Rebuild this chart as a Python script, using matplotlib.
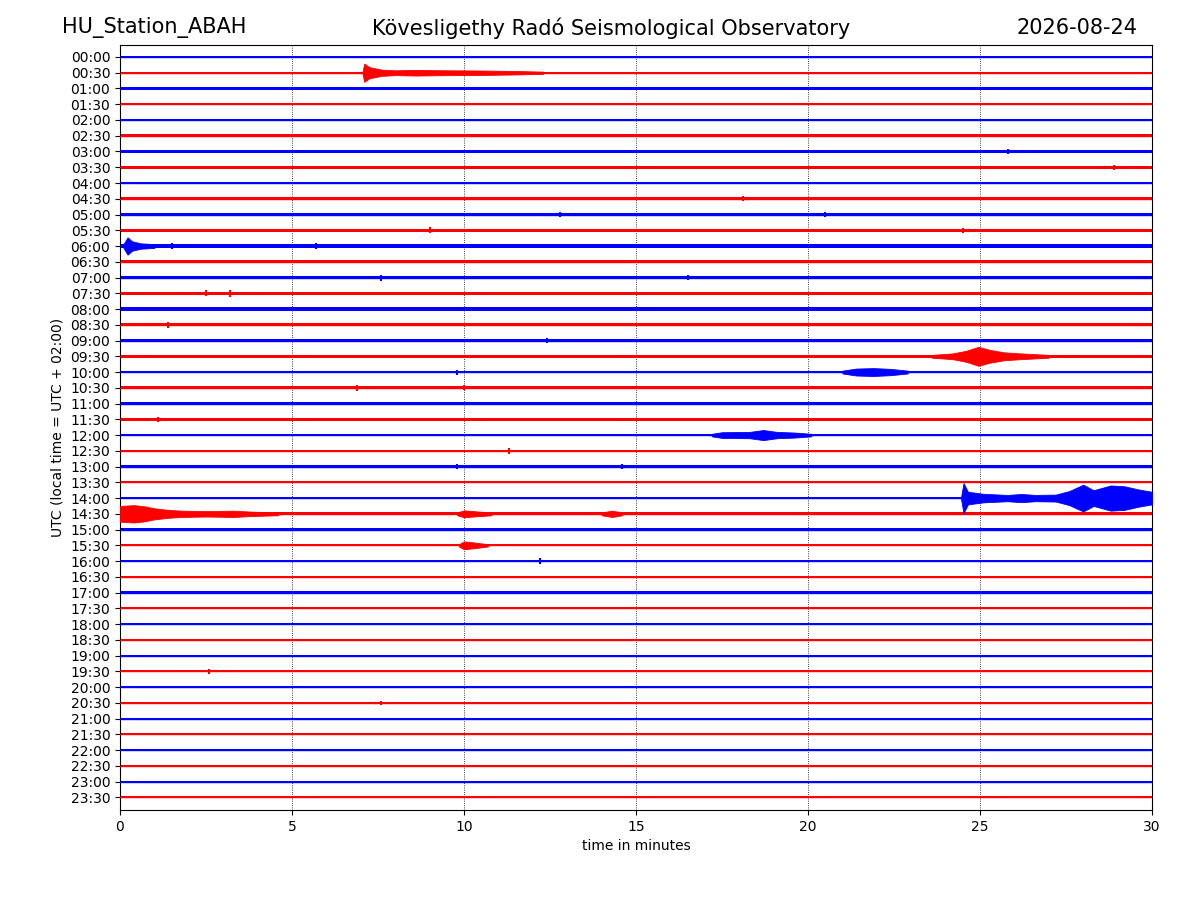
import numpy as np
import matplotlib
matplotlib.use("Agg")
import matplotlib.pyplot as plt

# ---- data ----
row_labels = ["00:00", "00:30", "01:00", "01:30", "02:00", "02:30", "03:00", "03:30",
              "04:00", "04:30", "05:00", "05:30", "06:00", "06:30", "07:00", "07:30",
              "08:00", "08:30", "09:00", "09:30", "10:00", "10:30", "11:00", "11:30",
              "12:00", "12:30", "13:00", "13:30", "14:00", "14:30", "15:00", "15:30",
              "16:00", "16:30", "17:00", "17:30", "18:00", "18:30", "19:00", "19:30",
              "20:00", "20:30", "21:00", "21:30", "22:00", "22:30", "23:00", "23:30"]

# background noise half-amplitude of each trace (in trace-spacing units)
base_noise = [0.07, 0.07, 0.07, 0.07, 0.07, 0.08, 0.08, 0.08,
              0.09, 0.10, 0.11, 0.10, 0.12, 0.10, 0.10, 0.10,
              0.10, 0.10, 0.09, 0.09, 0.09, 0.09, 0.08, 0.09,
              0.08, 0.08, 0.08, 0.07, 0.07, 0.09, 0.07, 0.07,
              0.08, 0.07, 0.07, 0.07, 0.07, 0.07, 0.07, 0.07,
              0.06, 0.07, 0.07, 0.07, 0.07, 0.07, 0.07, 0.07]

# seismic events: trace label, envelope times (min), envelope half-amplitudes
event_rows = ["00:30", "06:00", "09:30", "10:00", "12:00", "14:00", "14:30", "14:30", "14:30", "15:30"]
event_times = [
    [7.05, 7.10, 7.25, 7.6, 8.0, 8.6, 9.2, 10.5, 11.5, 12.3],
    [0.10, 0.22, 0.35, 0.6, 1.0],
    [23.6, 24.2, 24.6, 24.95, 25.3, 25.7, 26.2, 27.0],
    [21.0, 21.4, 21.9, 22.4, 22.9],
    [17.2, 17.5, 18.3, 18.7, 19.1, 19.6, 20.1],
    [24.45, 24.52, 24.65, 25.1, 25.8, 26.2, 26.6, 27.2, 27.6, 28.0, 28.3, 28.8, 29.2, 29.6, 30.0],
    [0.0, 0.4, 0.7, 1.0, 1.4, 1.8, 2.5, 3.3, 3.8, 4.6],
    [9.8, 10.0, 10.4, 10.8],
    [14.0, 14.3, 14.6],
    [9.85, 10.0, 10.3, 10.7],
]
event_amps = [
    [0.07, 0.58, 0.35, 0.20, 0.15, 0.18, 0.16, 0.14, 0.11, 0.07],
    [0.12, 0.55, 0.30, 0.17, 0.12],
    [0.09, 0.18, 0.35, 0.60, 0.40, 0.25, 0.18, 0.09],
    [0.09, 0.22, 0.25, 0.20, 0.09],
    [0.08, 0.18, 0.20, 0.32, 0.20, 0.16, 0.08],
    [0.07, 0.95, 0.40, 0.27, 0.20, 0.26, 0.20, 0.22, 0.45, 0.85, 0.50, 0.80, 0.75, 0.55, 0.40],
    [0.50, 0.55, 0.48, 0.35, 0.25, 0.20, 0.17, 0.20, 0.14, 0.09],
    [0.09, 0.22, 0.15, 0.09],
    [0.09, 0.20, 0.09],
    [0.07, 0.25, 0.18, 0.07],
]

# isolated short spikes: trace label, time (min), half-amplitude
spike_rows = ["03:30", "04:30", "05:00", "05:00", "05:30", "05:30", "07:00", "07:00",
              "07:30", "07:30", "08:30", "09:00", "10:00", "10:30", "10:30", "11:30", "12:30",
              "13:00", "13:00", "16:00", "19:30", "20:30", "03:00", "06:00", "06:00"]
spike_times = [28.9, 18.1, 12.8, 20.5, 9.0, 24.5, 7.6, 16.5,
               2.5, 3.2, 1.4, 12.4, 9.8, 6.9, 10.0, 1.1, 11.3,
               9.8, 14.6, 12.2, 2.6, 7.6, 25.8, 1.5, 5.7]
spike_amps = [0.17, 0.17, 0.16, 0.15, 0.18, 0.16, 0.19, 0.17,
              0.18, 0.21, 0.18, 0.18, 0.16, 0.18, 0.16, 0.17, 0.18,
              0.17, 0.16, 0.17, 0.14, 0.15, 0.13, 0.20, 0.17]

colors = ["blue", "red"]

# ---- plot ----
fig = plt.figure(figsize=(12, 9), dpi=100)
ax = fig.add_axes([0.1, 0.1, 0.86, 0.85])

row_index = {lab: i for i, lab in enumerate(row_labels)}

for i, lab in enumerate(row_labels):
    c = colors[i % 2]
    b = base_noise[i]
    ax.fill_between([0, 30], [i - b, i - b], [i + b, i + b], color=c, lw=0, zorder=2)
    ax.plot([0, 30], [i, i], color=c, lw=1.0, zorder=3)

for lab, ts, amps in zip(event_rows, event_times, event_amps):
    i = row_index[lab]
    c = colors[i % 2]
    ts = np.asarray(ts)
    amps = np.asarray(amps)
    ax.fill_between(ts, i - amps, i + amps, color=c, lw=0.6, edgecolor=c, zorder=3)

for lab, t, a in zip(spike_rows, spike_times, spike_amps):
    i = row_index[lab]
    c = colors[i % 2]
    ax.vlines(t, i - a, i + a, color=c, lw=1.5, zorder=3)

ax.set_xlim(0, 30)
ax.set_ylim(47.8, -0.76)
ax.set_yticks(range(len(row_labels)))
ax.set_yticklabels(row_labels)
ax.set_xticks([0, 5, 10, 15, 20, 25, 30])
ax.grid(axis="x", linestyle=":", color="black", lw=0.6, zorder=1)
ax.set_axisbelow(True)
ax.set_xlabel("time in minutes")
ax.set_ylabel("UTC (local time = UTC + 02:00)")

fig.text(0.052, 0.969, "HU_Station_ABAH", fontsize=15, ha="left", va="center")
fig.text(0.509, 0.969, "Kövesligethy Radó Seismological Observatory", fontsize=15, ha="center", va="center")
fig.text(0.9475, 0.969, "2026-08-24", fontsize=15, ha="right", va="center")

fig.savefig("out.png", dpi=100)
